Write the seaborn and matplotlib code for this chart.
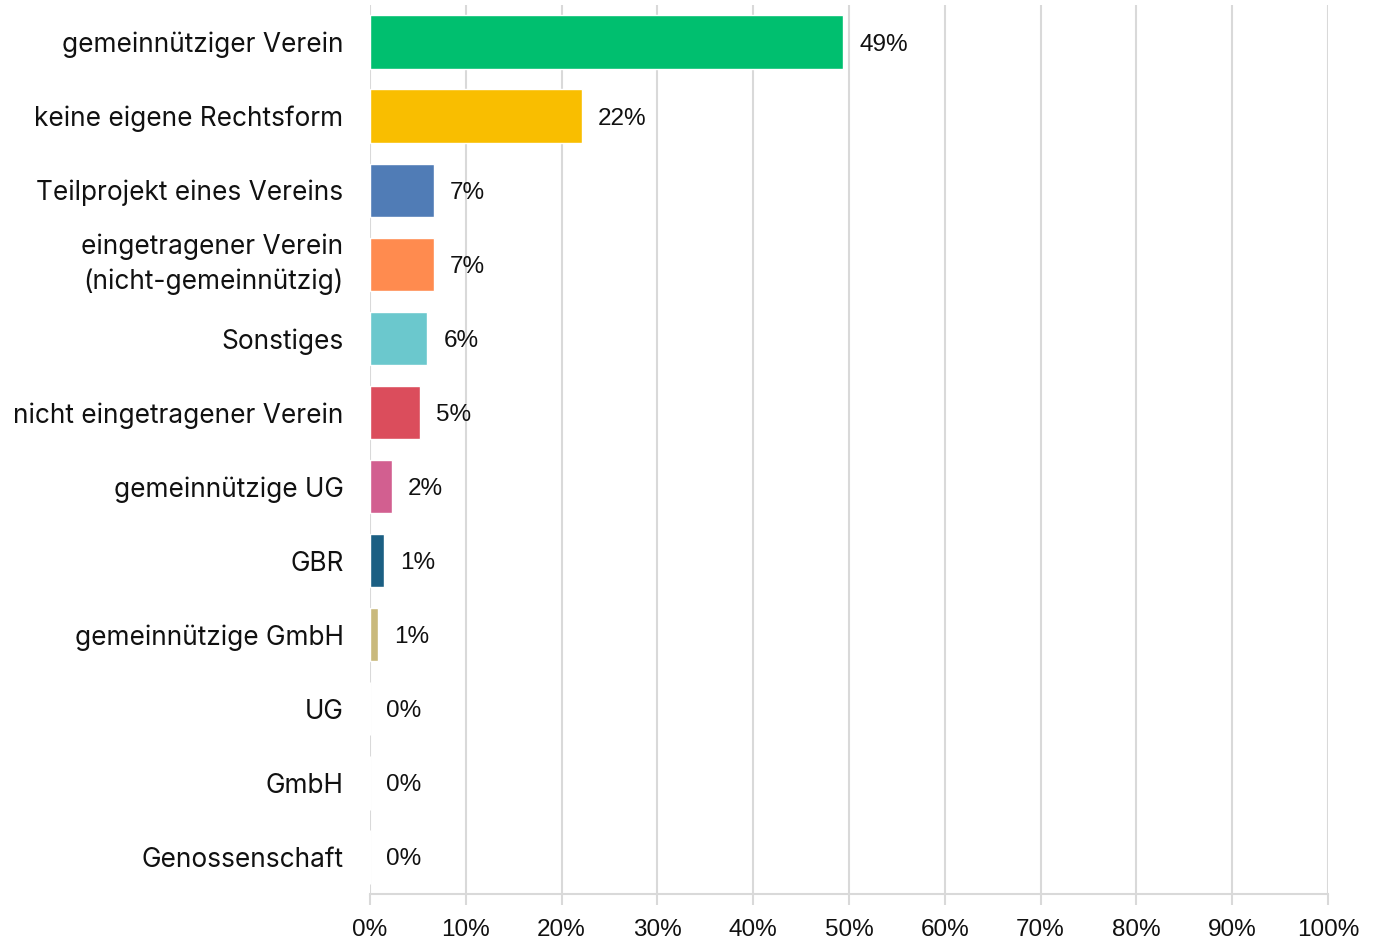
import matplotlib
matplotlib.use("Agg")
import matplotlib.pyplot as plt
import seaborn as sns
import pandas as pd

categories = [
    "gemeinnütziger Verein",
    "keine eigene Rechtsform",
    "Teilprojekt eines Vereins",
    "eingetragener Verein\n(nicht-gemeinnützig)",
    "Sonstiges",
    "nicht eingetragener Verein",
    "gemeinnützige UG",
    "GBR",
    "gemeinnützige GmbH",
    "UG",
    "GmbH",
    "Genossenschaft",
]
values = [49.4, 22.1, 6.7, 6.7, 6.0, 5.2, 2.3, 1.5, 0.8, 0.0, 0.0, 0.0]
labels = ["49%", "22%", "7%", "7%", "6%", "5%", "2%", "1%", "1%", "0%", "0%", "0%"]
colors = ["#00BF6F", "#F9BE00", "#507CB6", "#FF8B4F", "#6BC8CD", "#DB4D5C",
          "#D25F90", "#1B5F83", "#C9B97C", "#888888", "#888888", "#888888"]
xticks = list(range(0, 101, 10))

df = pd.DataFrame({"cat": categories, "val": values})

sns.set_theme(style="white")
plt.rcParams["font.family"] = ["Liberation Sans", "DejaVu Sans"]

fig = plt.figure(figsize=(13.8, 9.42), dpi=100)
ax = fig.add_axes([370/1380, 1 - 894/942, (1328-370)/1380, (894-5)/942])

sns.barplot(data=df, y="cat", x="val", hue="cat", palette=colors, legend=False,
            orient="h", width=0.72, saturation=1, ax=ax, zorder=3)

ax.set_xlim(0, 100)
ax.set_ylim(len(categories) - 0.5, -0.5)
ax.set_xticks(xticks)
ax.set_xticklabels([f"{t}%" for t in xticks], fontsize=17.5, color="#111111")
ax.set_xlabel("")
ax.set_ylabel("")
ax.grid(axis="x", color="#d9d9d9", linewidth=1.5, zorder=0)
ax.set_axisbelow(True)
for s in ["top", "right", "left"]:
    ax.spines[s].set_visible(False)
ax.spines["bottom"].set_color("#d9d9d9")
ax.spines["bottom"].set_linewidth(1.5)
ax.tick_params(axis="x", length=8, width=1.5, color="#d9d9d9", pad=10, bottom=True)
ax.tick_params(axis="y", length=0, pad=19)
ax.set_yticks(range(len(categories)))
ax.set_yticklabels(categories, fontsize=18.9, family=["Inter", "DejaVu Sans"],
                   color="#111111", linespacing=1.42)
for t in ax.get_yticklabels():
    if "\n" in t.get_text():
        t.set_verticalalignment("center")

for i, (v, lab) in enumerate(zip(values, labels)):
    ax.annotate(lab, xy=(v, i), xytext=(11.5, 0), textcoords="offset points",
                va="center_baseline", ha="left", fontsize=17.5, color="#111111")

fig.savefig("out.png", dpi=100)
